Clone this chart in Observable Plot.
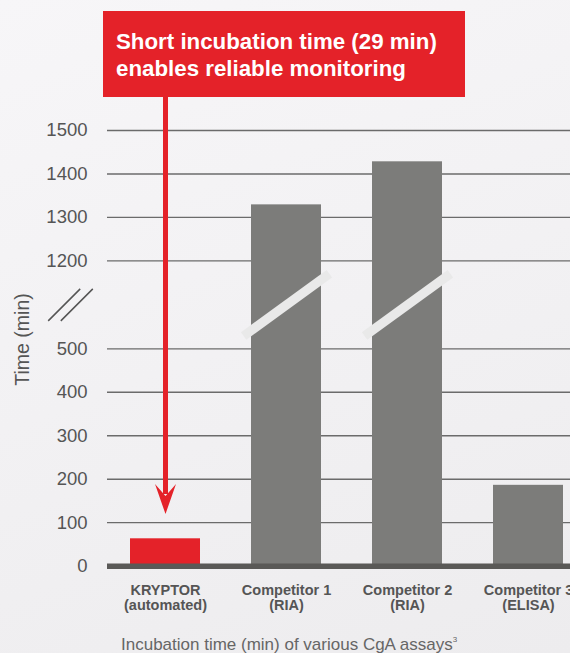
<!DOCTYPE html>
<html>
<head>
<meta charset="utf-8">
<script src="https://cdn.jsdelivr.net/npm/d3@7"></script>
<script src="https://cdn.jsdelivr.net/npm/@observablehq/plot@0.6"></script>
<style>
  html, body { margin: 0; padding: 0; }
  body {
    width: 570px; height: 653px; overflow: hidden; position: relative;
    background: linear-gradient(160deg, #f7f6f8 0%, #f2f1f3 50%, #edecee 100%);
    font-family: "Liberation Sans", Arial, Helvetica, sans-serif;
  }
  #chart { position: absolute; left: 0; top: 0; }
  #callout {
    position: absolute; left: 103px; top: 11px; width: 362px; height: 86px;
    box-sizing: border-box; padding: 17px 0 0 13px;
    background: #e42229; color: #fff; font-weight: bold; font-size: 22.3px; line-height: 27px;
  }
  #caption {
    position: absolute; left: 121px; top: 636px; font-size: 17px; line-height: 17px; color: #666;
    white-space: nowrap;
  }
  #caption sup { font-size: 8px; vertical-align: 8px; line-height: 0; }
</style>
</head>
<body>
<div id="chart"></div>
<div id="callout">Short incubation time (29 min)<br>enables reliable monitoring</div>
<div id="caption">Incubation time (min) of various CgA assays<sup>3</sup></div>
<script>
// ---- data ----
const categories = ["KRYPTOR", "Competitor 1", "Competitor 2", "Competitor 3"];
const subLabels = ["(automated)", "(RIA)", "(RIA)", "(ELISA)"];
const incubationMinutes = [63, 1329, 1428, 186];
const yTicks = [0, 100, 200, 300, 400, 500, 1200, 1300, 1400, 1500];
const axisBreak = [500, 1200];          // values hidden by the broken axis
const yMax = 1500;
const highlighted = "KRYPTOR";
const arrowFrom = 1577;                  // arrow starts at the callout box
const arrowTo = 120;                     // arrow tip value

// ---- derived ----
const data = categories.map((c, i) => ({cat: c, sub: subLabels[i], value: incubationMinutes[i]}));
const breakMid = (axisBreak[0] + axisBreak[1]) / 2;
const brokenBars = data.filter(d => d.value > axisBreak[1]);
const RED = "#e42229", GRAY = "#7c7c7a", TEXT = "#555";
const GAP = 202; // visual size of the axis break, in lower-segment units
const brk = v => v <= axisBreak[0] ? v
  : v >= axisBreak[1] ? axisBreak[0] + GAP + (v - axisBreak[1])
  : axisBreak[0] + (v - axisBreak[0]) / (axisBreak[1] - axisBreak[0]) * GAP;

// custom symbols
const slashSymbol = {
  draw(ctx) {
    const a = 36 * Math.PI / 180, L = 53, T = 4.6;
    const ux = Math.cos(a), uy = -Math.sin(a), nx = -uy, ny = ux;
    ctx.moveTo(-L*ux - T*nx, -L*uy - T*ny);
    ctx.lineTo( L*ux - T*nx,  L*uy - T*ny);
    ctx.lineTo( L*ux + T*nx,  L*uy + T*ny);
    ctx.lineTo(-L*ux + T*nx, -L*uy + T*ny);
    ctx.closePath();
  }
};
const doubleSlash = {
  draw(ctx) {
    ctx.moveTo(-22.3, 16); ctx.lineTo(9.7, -16);
    ctx.moveTo(-9.7, 16); ctx.lineTo(22.3, -16);
  }
};
const arrowHead = {
  draw(ctx) {
    ctx.moveTo(0, 0); ctx.lineTo(10.5, -30); ctx.lineTo(0, -18); ctx.lineTo(-10.5, -30); ctx.closePath();
  }
};

const chart = Plot.plot({
  width: 570,
  height: 653,
  marginLeft: 107,
  marginRight: 0,
  marginTop: 130,
  marginBottom: 87,
  style: {background: "transparent", fontFamily: "'Liberation Sans', Arial, Helvetica, sans-serif", overflow: "visible"},
  x: {domain: categories, range: [129, 564], paddingInner: 0.425, paddingOuter: 0, axis: null},
  y: {type: "linear", transform: brk, domain: [0, brk(yMax)], range: [565.7, 130], axis: null},
  marks: [
    Plot.ruleY(yTicks.filter(d => d > 0), {stroke: "#6b6b6b", strokeWidth: 1.3}),
    Plot.barY(data, {x: "cat", y: "value", fill: d => d.cat === highlighted ? RED : GRAY}),
    Plot.dot(brokenBars, {x: "cat", y: () => breakMid, symbol: slashSymbol, fill: "#e9e9e9", stroke: "none", r: 5}),
    Plot.ruleY([0], {stroke: "#5a5957", strokeWidth: 5.5}),
    Plot.ruleX([highlighted], {x: d => d, y1: arrowTo + 45, y2: arrowFrom, stroke: RED, strokeWidth: 5}),
    Plot.dot([highlighted], {x: d => d, y: () => arrowTo, symbol: arrowHead, fill: RED, stroke: "none", r: 5}),
    Plot.axisY(yTicks, {tickSize: 0, tickPadding: 20, fontSize: 18.5, fill: TEXT, label: null, tickFormat: d => String(d)}),
    Plot.dot([breakMid], {y: d => d, frameAnchor: "left", dx: -37, symbol: doubleSlash, stroke: "#555", strokeWidth: 1.5, fill: "none", r: 5}),
    Plot.text(["Time (min)"], {frameAnchor: "left", textAnchor: "middle", dx: -84.5, dy: -9, rotate: -90, fontSize: 19.5, fill: TEXT}),
    Plot.axisX({
      tickSize: 0, tickPadding: 17, fontSize: 14.5, fontWeight: "bold", fill: TEXT, label: null, lineHeight: 1.08,
      tickFormat: c => c + "\n" + subLabels[categories.indexOf(c)]
    })
  ]
});
document.getElementById("chart").appendChild(chart);
</script>
</body>
</html>
